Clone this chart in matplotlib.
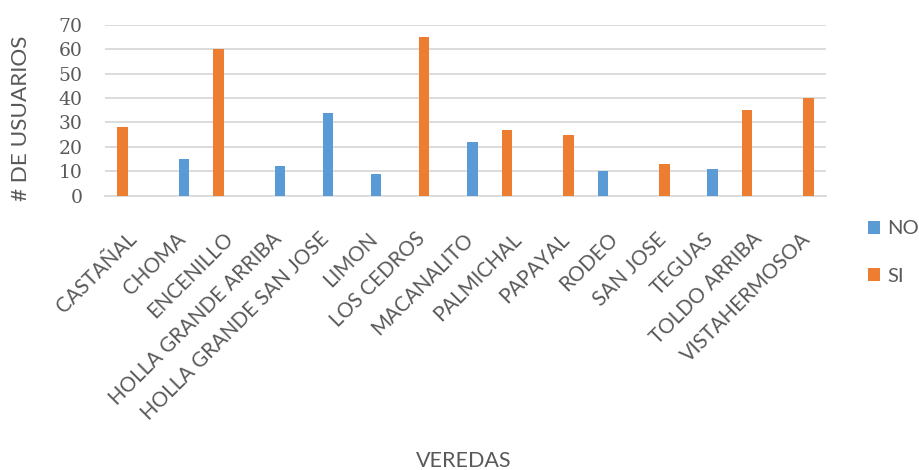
import matplotlib

matplotlib.use("Agg")
import matplotlib.pyplot as plt
import matplotlib.transforms as mtransforms
import numpy as np

veredas = [
    "CASTAÑAL",
    "CHOMA",
    "ENCENILLO",
    "HOLLA GRANDE ARRIBA",
    "HOLLA GRANDE SAN JOSE",
    "LIMON",
    "LOS CEDROS",
    "MACANALITO",
    "PALMICHAL",
    "PAPAYAL",
    "RODEO",
    "SAN JOSE",
    "TEGUAS",
    "TOLDO ARRIBA",
    "VISTAHERMOSOA",
]
usuarios_no = [0, 15, 0, 12, 34, 9, 0, 22, 0, 0, 10, 0, 11, 0, 0]
usuarios_si = [28, 0, 60, 0, 0, 0, 65, 0, 27, 25, 0, 13, 0, 35, 40]
# series that comes first inside each cluster (order in the source sheet)
primero = ["SI", "SI", "SI", "SI", "SI", "SI", "NO", "SI",
           "SI", "NO", "NO", "NO", "SI", "SI", "NO"]
y_ticks = [0, 10, 20, 30, 40, 50, 60, 70]

GRAY = "#595959"
GRID = "#d9d9d9"
BLUE = "#5b9bd5"
ORANGE = "#ed7d31"


def do_plot():
    fig = plt.figure(figsize=(9.2, 4.7), dpi=100)
    ax = fig.add_axes([105 / 920, 1 - 195.7 / 470, 721 / 920, 171 / 470])

    x = np.arange(len(veredas))
    width = 0.22
    off = 0.14
    sign_no = np.array([1 if p == "SI" else -1 for p in primero])

    ax.bar(x + sign_no * off, usuarios_no, width, color=BLUE, label="NO",
           linewidth=0, zorder=3)
    ax.bar(x - sign_no * off, usuarios_si, width, color=ORANGE, label="SI",
           linewidth=0, zorder=3)

    ax.set_xlim(-0.5, len(veredas) - 0.5)
    ax.set_ylim(0, 70)
    ax.set_yticks(y_ticks)
    ax.yaxis.grid(True, color=GRID, linewidth=1.3, zorder=0)
    ax.set_axisbelow(True)
    for s in ["top", "right", "left"]:
        ax.spines[s].set_visible(False)
    ax.spines["bottom"].set_color(GRID)
    ax.spines["bottom"].set_linewidth(1.3)
    ax.tick_params(axis="both", length=0)
    ax.tick_params(axis="y", pad=16)

    for lab in ax.get_yticklabels():
        lab.set_fontfamily("DejaVu Serif")
        lab.set_fontsize(13.5)
        lab.set_color(GRAY)

    ax.set_xticks(x)
    ax.set_xticklabels(veredas, rotation=45, ha="right", va="center",
                       rotation_mode="anchor", fontsize=14.8,
                       fontfamily="Lato", color=GRAY)
    ax.tick_params(axis="x", pad=29)
    shift = mtransforms.ScaledTranslation(0.05, 0, fig.dpi_scale_trans)
    for lab in ax.get_xticklabels():
        lab.set_transform(lab.get_transform() + shift)

    fig.text(21.5 / 920, 1 - 118 / 470, "# DE USUARIOS", rotation=90,
             fontsize=16.2, fontfamily="Lato", color=GRAY,
             ha="center", va="center")
    fig.text(464 / 920, 1 - 461 / 470, "VEREDAS", fontsize=15.5,
             fontfamily="Lato", color=GRAY, ha="center", va="center")

    leg = fig.legend(loc="center left",
                     bbox_to_anchor=(868 / 920, 1 - 252.5 / 470),
                     frameon=False, prop={"family": "Lato", "size": 14.5},
                     handlelength=0.62, handleheight=0.62, handletextpad=0.35,
                     labelspacing=1.5, borderpad=0, borderaxespad=0)
    for t in leg.get_texts():
        t.set_color(GRAY)

    fig.savefig("out.png", dpi=100)


if __name__ == "__main__":
    do_plot()
